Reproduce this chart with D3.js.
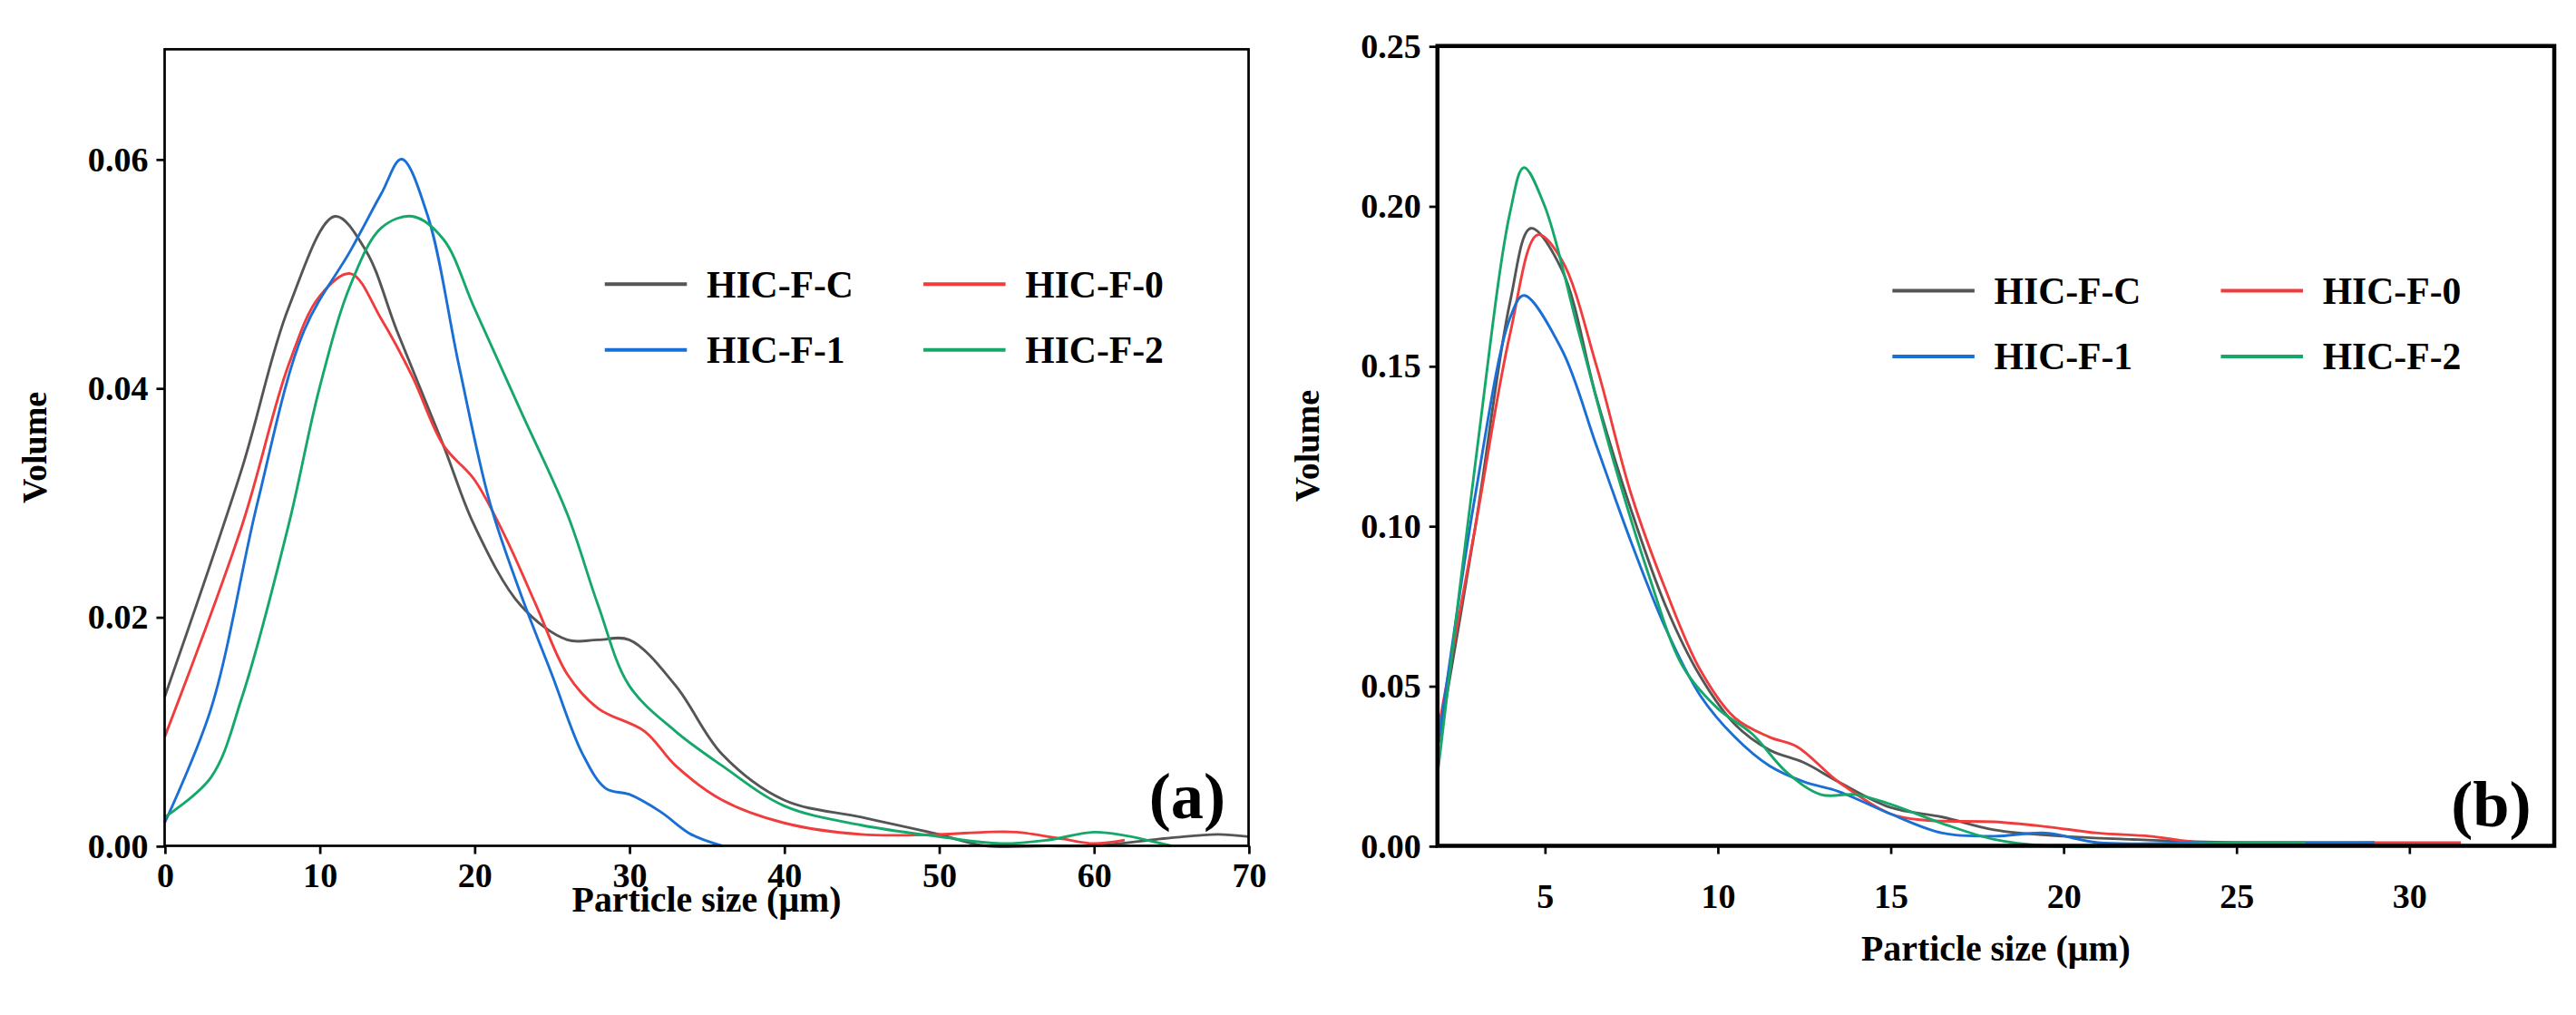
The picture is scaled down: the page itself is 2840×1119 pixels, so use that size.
<!DOCTYPE html>
<html><head><meta charset="utf-8">
<script src="https://cdn.jsdelivr.net/npm/d3@7"></script>
<style>body{margin:0;background:#fff}svg{display:block}text{font-family:"Liberation Serif","DejaVu Serif",serif;font-weight:bold}</style>
</head><body>
<svg id="chart" width="2840" height="1119" viewBox="0 0 1568 618"></svg>
<script>
// series names and colours
var names = ["HIC-F-C", "HIC-F-0", "HIC-F-1", "HIC-F-2"];
var colors = ["#555555", "#f03c3c", "#1a6fd4", "#15a86a"];

// panel (a) data: [size, volume]
var aC = [[0,0.013],[5,0.033],[8,0.047],[11,0.055],[13,0.052],[15,0.045],[18,0.035],[20,0.028],[23,0.021],[26,0.018],[28,0.018],[30,0.018],[33,0.014],[36,0.008],[40,0.004],[45,0.0025],[50,0.001],[53,0.0],[57,0.0],[60,0.0],[65,0.0007],[68,0.001],[70,0.0008]];
var a0 = [[0,0.0095],[5,0.028],[8,0.042],[10,0.048],[12,0.050],[14,0.046],[16,0.041],[18,0.035],[20,0.032],[22,0.027],[24,0.021],[26,0.015],[28,0.012],[31,0.010],[33,0.007],[36,0.004],[40,0.002],[45,0.001],[50,0.001],[53,0.0012],[55,0.0012],[58,0.0006],[60,0.0002],[62,0.0005]];
var a1 = [[0,0.002],[3,0.012],[6,0.030],[9,0.045],[12,0.052],[14,0.057],[15.3,0.060],[17,0.055],[19,0.042],[21,0.030],[23,0.022],[25,0.015],[27,0.008],[28.5,0.005],[30,0.0045],[32,0.003],[34,0.001],[36,0.0]];
var a2 = [[0,0.0025],[3,0.006],[5,0.013],[8,0.028],[10,0.040],[12,0.049],[14,0.054],[16,0.055],[18,0.053],[20,0.047],[23,0.038],[26,0.029],[28,0.021],[30,0.014],[33,0.010],[36,0.007],[40,0.0035],[45,0.0018],[50,0.0008],[54,0.0002],[57,0.0005],[60,0.0012],[62,0.0009],[65,0.0]];

// panel (b) data
var bC = [[1.9,0.03],[3,0.10],[4,0.17],[4.6,0.193],[5.5,0.18],[6.5,0.14],[7.5,0.105],[8.5,0.075],[9.5,0.053],[10.5,0.038],[11.5,0.030],[12.5,0.026],[13.5,0.020],[15,0.012],[16.5,0.009],[18,0.005],[20,0.003],[22,0.002],[25,0.001],[29,0.001]];
var b0 = [[1.9,0.035],[3,0.10],[4,0.16],[4.8,0.191],[5.5,0.183],[6.5,0.15],[7.5,0.11],[8.5,0.08],[9.5,0.055],[10.5,0.040],[11.5,0.034],[12.3,0.031],[13.5,0.020],[15,0.010],[16,0.008],[18,0.0075],[19.5,0.006],[21,0.004],[22.5,0.003],[24,0.001],[27,0.001],[31.5,0.001]];
var b1 = [[1.9,0.03],[3,0.11],[4,0.165],[4.4,0.172],[5.5,0.155],[6.5,0.125],[7.5,0.095],[8.5,0.068],[9.5,0.047],[10.5,0.034],[11.5,0.025],[12.5,0.020],[13.5,0.017],[15,0.010],[16.5,0.004],[18,0.003],[19.5,0.004],[21,0.001],[24,0.001],[29,0.001]];
var b2 = [[1.9,0.022],[3,0.12],[4,0.198],[4.4,0.212],[5,0.20],[6,0.16],[7,0.12],[8,0.085],[9,0.056],[10,0.043],[11,0.035],[12,0.023],[13,0.016],[14,0.016],[15,0.013],[16.5,0.007],[18,0.002],[19.5,0.0],[22,0.0],[25,0.001],[27,0.001]];

var aTicksX = [0,10,20,30,40,50,60,70];
var aTicksY = [0, 0.02, 0.04, 0.06];
var bTicksX = [5,10,15,20,25,30];
var bTicksY = [0, 0.05, 0.10, 0.15, 0.20, 0.25];

var svg = d3.select("#chart");

function panel(opt) {
  var x = d3.scaleLinear().domain(opt.xd).range([opt.l, opt.r]);
  var y = d3.scaleLinear().domain(opt.yd).range([opt.b, opt.t]);
  var g = svg.append("g");

  var line = d3.line().x(d => x(d[0])).y(d => y(Math.max(0, d[1]))).curve(d3.curveCatmullRom.alpha(0.5));
  opt.series.forEach((s, i) => {
    g.append("path").attr("d", line(s)).attr("fill", "none")
      .attr("stroke", colors[i]).attr("stroke-width", 1.6);
  });

  g.append("rect").attr("x", opt.l).attr("y", opt.t).attr("width", opt.r - opt.l).attr("height", opt.b - opt.t)
    .attr("fill", "none").attr("stroke", "#000").attr("stroke-width", opt.frame);

  var xa = g.append("g").attr("transform", `translate(0,${opt.b})`)
    .call(d3.axisBottom(x).tickValues(opt.tx).tickSize(5).tickPadding(opt.xPad).tickFormat(d3.format("d")));
  var ya = g.append("g").attr("transform", `translate(${opt.l},0)`)
    .call(d3.axisLeft(y).tickValues(opt.ty).tickSize(5).tickPadding(5).tickFormat(d3.format(".2f")));
  [xa, ya].forEach(a => {
    a.select(".domain").remove();
    a.selectAll("line").attr("stroke", "#000").attr("stroke-width", 1.5);
    a.selectAll("text").attr("font-size", 21).attr("fill", "#000")
      .style("font-family", '"Liberation Serif",serif').style("font-weight", "bold");
  });

  g.append("text").attr("x", (opt.l + opt.r) / 2).attr("y", opt.b + opt.xlDy).attr("text-anchor", "middle")
    .attr("font-size", 22).text("Particle size (μm)");
  g.append("text").attr("transform", `translate(${opt.l - 72},${(opt.t + opt.b) / 2}) rotate(-90)`)
    .attr("text-anchor", "middle").attr("font-size", 21).text("Volume");
  g.append("text").attr("x", opt.r - 14).attr("y", opt.b - opt.labelDy).attr("text-anchor", "end")
    .attr("font-size", 40).text(opt.label);

  names.forEach((n, i) => {
    var lx = opt.lgX + (i % 2) * opt.lgCol, ly = opt.lgY + Math.floor(i / 2) * 40;
    g.append("line").attr("x1", lx).attr("x2", lx + 50).attr("y1", ly).attr("y2", ly)
      .attr("stroke", colors[i]).attr("stroke-width", 2.2);
    g.append("text").attr("x", lx + 62).attr("y", ly + 8).attr("font-size", 23).text(n);
  });
}

panel({l: 100, r: 760, t: 30, b: 515, xd: [0, 70], yd: [0, 0.0696], tx: aTicksX, ty: aTicksY,
  series: [aC, a0, a1, a2], frame: 1.5, label: "(a)", labelDy: 17, xPad: 5, xlDy: 40,
  lgX: 368, lgY: 173, lgCol: 194});
panel({l: 875, r: 1555, t: 28, b: 515, xd: [1.9, 34.2], yd: [0, 0.25], tx: bTicksX, ty: bTicksY,
  series: [bC, b0, b1, b2], frame: 2.5, label: "(b)", labelDy: 12, xPad: 18, xlDy: 70,
  lgX: 1152, lgY: 177, lgCol: 200});
</script>
</body></html>
